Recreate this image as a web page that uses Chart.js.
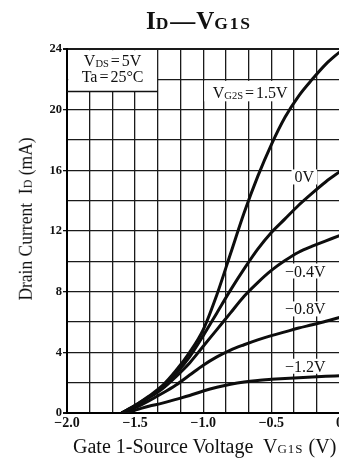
<!DOCTYPE html>
<html>
<head>
<meta charset="utf-8">
<script src="https://cdn.jsdelivr.net/npm/chart.js@4.4.1/dist/chart.umd.min.js"></script>
<style>
  html, body { margin:0; padding:0; background:#fff; overflow:hidden; width:339px; height:460px; }
  #wrap { position:absolute; left:0; top:0; width:343px; height:460px; }
  .t { position:absolute; font-family:"Liberation Serif","DejaVu Serif",serif; color:#111; white-space:nowrap; }
  #title { left:146px; top:9px; font-size:25px; font-weight:bold; line-height:24px; }
  #title .s { font-size:17.5px; letter-spacing:1.8px; }
  #title .d { display:inline-block; margin:0 1px 0 0; }
  #xt { left:73px; top:436px; font-size:20px; line-height:20px; }
  #xt .s { font-size:13px; letter-spacing:1px; }
  #yt { left:-62px; top:209px; width:174px; height:20px; font-size:17.5px; line-height:20px; text-align:center; transform:rotate(-90deg) scaleY(1.12); }
  #yt .s { font-size:12px; }
</style>
</head>
<body>
<div id="wrap"><canvas id="c"></canvas></div>
<div id="title" class="t">I<span class="s">D</span><span class="d">—</span>V<span class="s">G1S</span></div>
<div id="yt" class="t">Drain Current&nbsp; I<span class="s">D</span> (mA)</div>
<div id="xt" class="t">Gate 1-Source Voltage&nbsp; V<span class="s">G1S</span> (V)</div>
<script>
// ---- data ----
const vg1s        = [-1.6, -1.5, -1.4, -1.3, -1.2, -1.1, -1.0, -0.9, -0.8, -0.7, -0.6, -0.5, -0.4, -0.3, -0.2, -0.1, 0];
const idVg2sP15   = [0, 0.5, 1.1, 1.8, 2.8, 4.0, 5.5, 7.8, 10.5, 13.2, 15.6, 17.7, 19.5, 20.9, 22.0, 23.0, 23.8];
const idVg2s0     = [0, 0.5, 1.05, 1.7, 2.6, 3.7, 5.1, 6.6, 8.1, 9.5, 10.8, 11.9, 12.8, 13.7, 14.5, 15.25, 15.9];
const idVg2sM04   = [0, 0.45, 1.0, 1.6, 2.4, 3.3, 4.4, 5.5, 6.6, 7.7, 8.6, 9.4, 10.05, 10.6, 11.0, 11.35, 11.7];
const idVg2sM08   = [0, 0.35, 0.8, 1.3, 1.85, 2.5, 3.15, 3.7, 4.15, 4.5, 4.82, 5.1, 5.35, 5.6, 5.82, 6.05, 6.3];
const idVg2sM12   = [0, 0.2, 0.45, 0.65, 0.9, 1.15, 1.45, 1.7, 1.9, 2.05, 2.15, 2.22, 2.28, 2.33, 2.38, 2.42, 2.45];
const seriesLabels = ['1.5V', '0V', '−0.4V', '−0.8V', '−1.2V'];
const xTickLabels = ['−2.0', '−1.5', '−1.0', '−0.5', '0'];
const yTickLabels = ['0', '4', '8', '12', '16', '20', '24'];

const X_MIN = -2, X_MAX = 0, Y_MIN = 0, Y_MAX = 24;
const xGrid = []; for (let i = 0; i <= 12; i++) xGrid.push(X_MIN + i / 6);

const allSeries = [idVg2sP15, idVg2s0, idVg2sM04, idVg2sM08, idVg2sM12];
const datasets = allSeries.map((arr, k) => ({
  label: seriesLabels[k],
  data: vg1s.map((v, i) => ({ x: v, y: arr[i] })),
  borderColor: '#0d0d0d',
  borderWidth: 3,
  pointRadius: 0,
  fill: false,
  cubicInterpolationMode: 'monotone'
}));

const SERIF = '"Liberation Serif","DejaVu Serif",serif';

// text with baseline-level small subscript
function drawRich(ctx, parts, x, y, align) {
  let w = 0;
  parts.forEach(p => { ctx.font = p.f; w += ctx.measureText(p.t).width + (p.sp || 0); });
  let cx = align === 'center' ? x - w / 2 : x;
  parts.forEach(p => {
    ctx.font = p.f;
    ctx.fillText(p.t, cx + (p.sp || 0) / 2, y + (p.dy || 0));
    cx += ctx.measureText(p.t).width + (p.sp || 0);
  });
}

const annot = {
  id: 'annot',
  beforeDatasetsDraw(chart) {
    const ctx = chart.ctx, xs = chart.scales.x, ys = chart.scales.y;
    const px = v => xs.getPixelForValue(v), py = v => ys.getPixelForValue(v);
    ctx.save();
    ctx.fillStyle = '#fff';
    // condition box (top-left)
    const bl = px(-2) + 1.2, br = px(-4 / 3) - 0.8, bt = py(24) + 1.2, bb = py(21.2);
    ctx.fillRect(bl, bt, br - bl, bb - bt);
    ctx.strokeStyle = '#111'; ctx.lineWidth = 1.6;
    ctx.beginPath(); ctx.moveTo(px(-2), bb); ctx.lineTo(px(-4 / 3), bb); ctx.stroke();
    // VG2S box
    ctx.fillStyle = '#fff';
    ctx.fillRect(px(-1) + 1, py(21.9), px(-1 / 3) - px(-1) - 2, py(20.55) - py(21.9));

    ctx.fillStyle = '#111';
    ctx.textBaseline = 'alphabetic';
    const F = s => s + 'px ' + SERIF;
    const cxBox = (bl + br) / 2;
    drawRich(ctx, [{ t: 'V', f: F(16) }, { t: 'DS', f: F(10.5), dy: 1 }, { t: '=', f: F(16), sp: 4 }, { t: '5V', f: F(16) }], cxBox, py(22.85), 'center');
    drawRich(ctx, [{ t: 'Ta', f: F(16) }, { t: '=', f: F(16), sp: 4 }, { t: '25°C', f: F(16) }], cxBox, py(21.85), 'center');
    drawRich(ctx, [{ t: 'V', f: F(16) }, { t: 'G2S', f: F(10.5), dy: 1 }, { t: '=', f: F(16), sp: 4 }, { t: '1.5V', f: F(16) }], px(-0.93), py(20.8), 'left');

    // curve labels with white backing
    const labs = [
      { t: seriesLabels[1], v: -0.33, i: 15.2 },
      { t: seriesLabels[2], v: -0.40, i: 9.0 },
      { t: seriesLabels[3], v: -0.40, i: 6.5 },
      { t: seriesLabels[4], v: -0.40, i: 2.72 }
    ];
    labs.forEach(l => {
      ctx.font = F(16);
      const w = ctx.measureText(l.t).width;
      const x = px(l.v), y = py(l.i);
      ctx.fillStyle = '#fff';
      ctx.fillRect(x - 3, y - 13, w + 6, 15);
      ctx.fillStyle = '#111';
      ctx.fillText(l.t, x, y);
    });
    ctx.restore();
  }
};

new Chart(document.getElementById('c'), {
  type: 'line',
  data: { datasets: datasets },
  options: {
    responsive: true,
    maintainAspectRatio: false,
    animation: false,
    events: [],
    layout: { padding: { top: 49, left: 0, right: 0, bottom: 0 } },
    plugins: { legend: { display: false }, title: { display: false }, tooltip: { enabled: false } },
    scales: {
      x: {
        type: 'linear', min: X_MIN, max: X_MAX,
        afterBuildTicks: s => { s.ticks = xGrid.map(v => ({ value: v })); },
        afterFit: s => { s.height = 47; },
        ticks: {
          autoSkip: false, maxRotation: 0, padding: 0, color: '#111',
          font: { family: SERIF, size: 14, weight: 'bold' },
          callback: (v, i) => (i % 3 === 0 ? xTickLabels[i / 3] : '')
        },
        grid: {
          color: '#1a1a1a',
          lineWidth: c => (c.index === 0 || c.index === 12 ? 2 : 1.3),
          tickLength: 2, tickColor: 'rgba(0,0,0,0)'
        },
        border: { display: true, color: '#000', width: 2 }
      },
      y: {
        type: 'linear', min: Y_MIN, max: Y_MAX,
        afterBuildTicks: s => { const t = []; for (let v = Y_MIN; v <= Y_MAX; v += 2) t.push({ value: v }); s.ticks = t; },
        afterFit: s => { s.width = 67; },
        ticks: {
          autoSkip: false, padding: 1, color: '#111',
          font: { family: SERIF, size: 12.5, weight: 'bold' },
          callback: v => (v % 4 === 0 ? yTickLabels[v / 4] : '')
        },
        grid: {
          color: '#1a1a1a',
          lineWidth: c => (c.tick && (c.tick.value === Y_MAX || c.tick.value === Y_MIN) ? 2 : 1.3),
          tickLength: 4,
          tickColor: c => (c.tick && c.tick.value % 4 === 0 ? '#111' : 'rgba(0,0,0,0)')
        },
        border: { display: true, color: '#000', width: 2 }
      }
    }
  },
  plugins: [annot]
});
</script>
</body>
</html>
